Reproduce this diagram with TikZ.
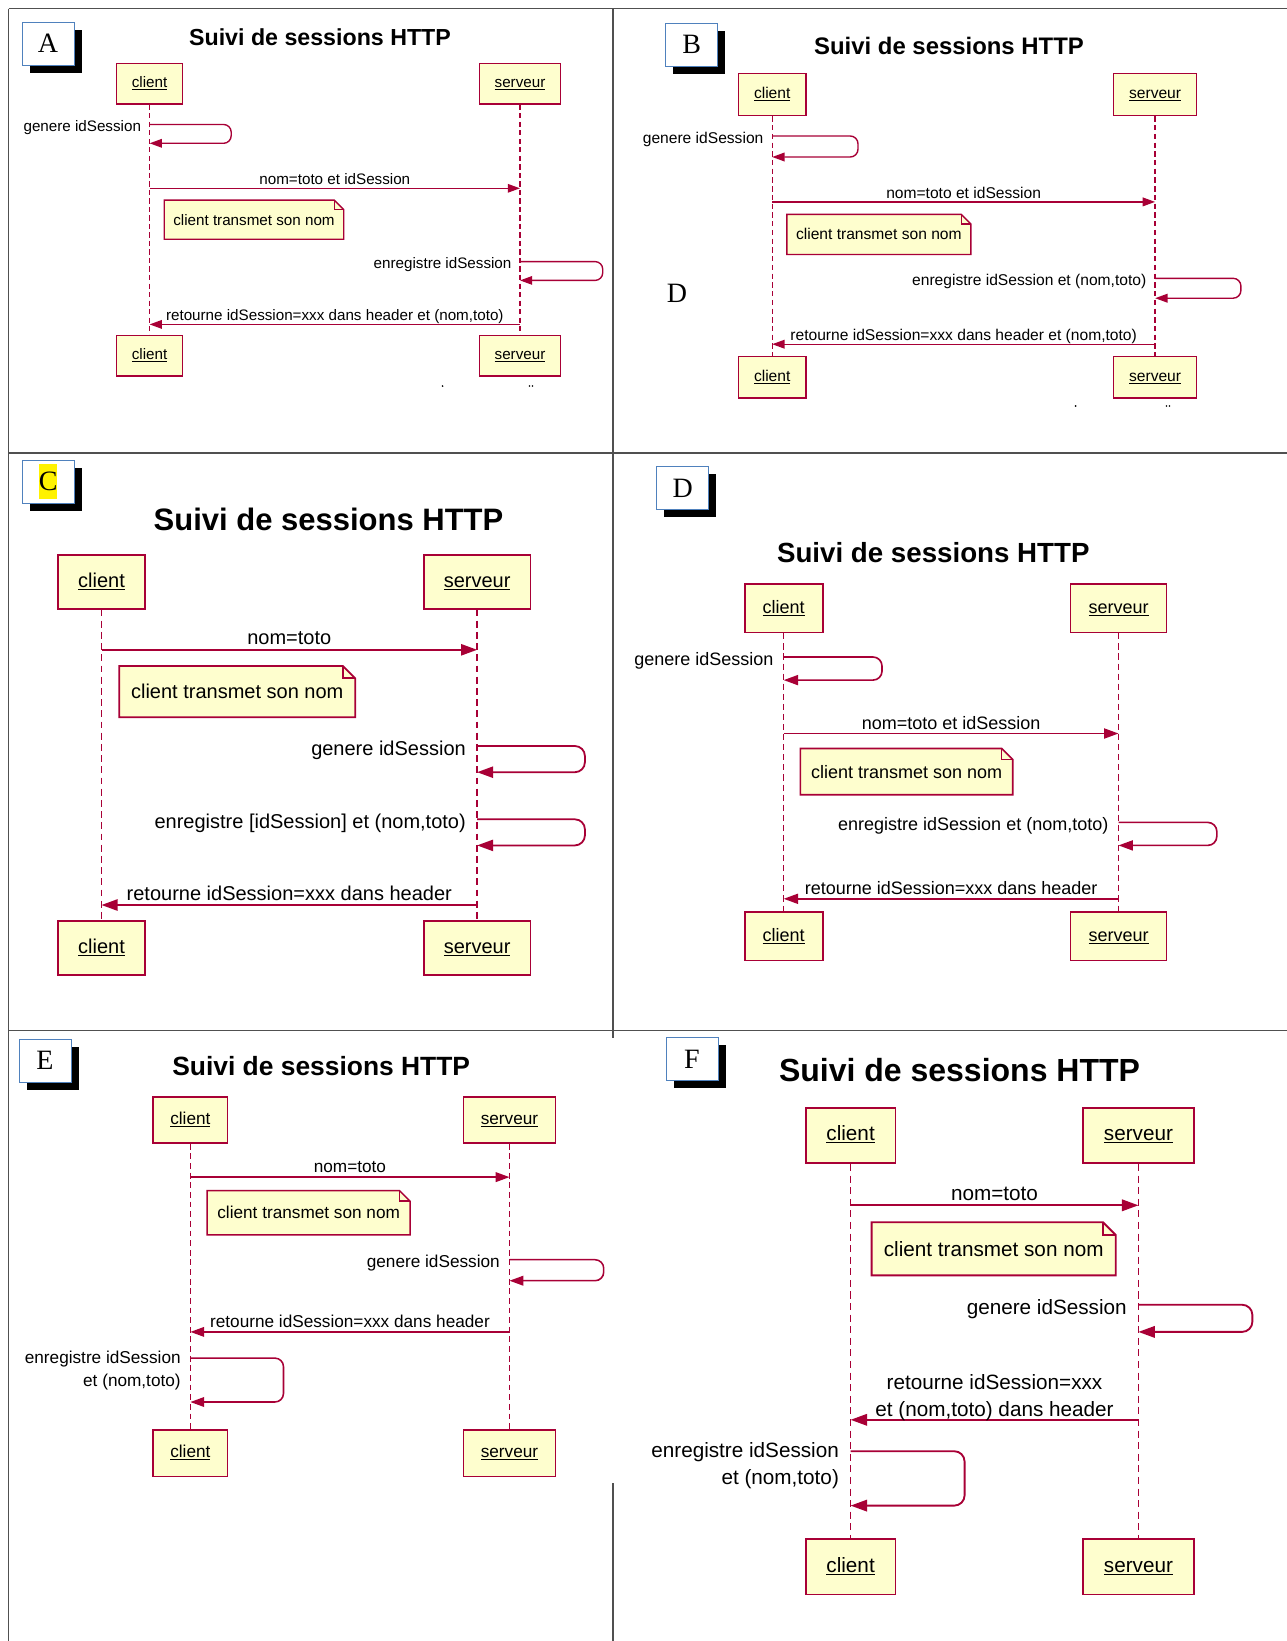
\documentclass[tikz,border=0pt]{standalone}
\usepackage{fontspec}
\setmainfont{Liberation Sans}
\newfontfamily\tagfont{Liberation Serif}
\usepackage{xcolor}
\usepackage{tikz}
\usetikzlibrary{positioning}
\usetikzlibrary{arrows.meta,shadows}

\definecolor{umlred}{HTML}{A80036}
\definecolor{umlyellow}{HTML}{FEFECE}
\definecolor{tagblue}{HTML}{4F81BD}
\definecolor{framegray}{HTML}{505050}

% font of one panel: size and baseline skip
\newcommand{\panelfont}[2]{\fontsize{#1}{#2}\selectfont}

% body and dog-ear of a note (drawn under the node text)
\newcommand{\notefold}[1]{%
	\filldraw[fill=umlyellow, draw=umlred, line width=0.09em] (#1.north west) -- ([xshift=-0.62em]#1.north east) -- ([yshift=-0.62em]#1.north east) -- (#1.south east) -- (#1.south west) -- cycle;
	\draw[umlred, line width=0.09em] ([xshift=-0.62em]#1.north east) |- ([yshift=-0.62em]#1.north east);%
}

\tikzset{
	frameline/.style={draw=framegray, line width=1.4pt},
	tag/.style={draw=tagblue, fill=white, line width=0.9pt, minimum width=52pt, minimum height=43pt, inner sep=0pt,
		font=\tagfont\fontsize{28}{30}\selectfont,
		drop shadow={fill=black, opacity=1, shadow xshift=7.5pt, shadow yshift=-7.5pt}},
	paneltitle/.style={inner sep=0pt},
	actor/.style={draw=umlred, fill=umlyellow, line width=0.09em, minimum height=2.68em, inner xsep=1em, inner ysep=0pt,
		text height=0.75em, text depth=0.22em},
	lifeline/.style={draw=umlred, line width=0.085em, dash pattern=on 0.34em off 0.22em},
	msg/.style={draw=umlred, line width=0.09em, -{Triangle[length=0.8em, width=0.56em]}},
	selfmsg/.style={rounded corners=0.5em, to path={-- ++(#1,0) |- (\tikztotarget)}},
	msglabel/.style={anchor=base, yshift=0.25em, inner sep=0pt},
	selflabel/.style={anchor=east, align=right, inner xsep=0.52em, inner ysep=0pt, yshift=-0.2em},
	note/.style={anchor=west, minimum height=2.55em, inner xsep=0.58em, inner ysep=0pt,
		append after command={\pgfextra{\notefold{\tikzlastnode}}}},
}

\begin{document}
\begin{tikzpicture}[x=1pt, y=-1pt]
	\path[use as bounding box, fill=white] (0,0) rectangle (1287,1641);
	
	% table frame
	\draw[frameline] (8.7,8.5) -- (1287,8.5);
	\draw[frameline] (8.7,453) -- (1287,453);
	\draw[frameline] (8.7,1030.5) -- (1287,1030.5);
	\draw[frameline] (8.7,8.5) -- (8.7,1641);
	\draw[frameline] (613,8.5) -- (613,1038);
	\draw[frameline] (613,1483) -- (613,1641);
	
	%%%%%%%%%%%%%%%%%%%%%%%%%%%%%%%%%%%%%%%%%%%%%%%%%%%%%%%%%%%%%%
	% A
	\begin{scope}
		\panelfont{15.2}{20}
		\node[tag] (A-tag) at (48,43.5) {A};
		\node[paneltitle, font=\bfseries\fontsize{23.2}{28}\selectfont] (A-title) at (320,37.7) {Suivi de sessions HTTP};
		
		\node[actor] (A-cl) at (149.6,83.7) {\underline{client}};
		\node[actor] (A-sv) at (520,83.7) {\underline{serveur}};
		\node[actor] (A-cl2) at (149.6,355.7) {\underline{client}};
		\node[actor] (A-sv2) at (520,355.7) {\underline{serveur}};
		\draw[lifeline] (A-cl) -- (A-cl2);
		\draw[lifeline] (A-sv) -- (A-sv2);
		
		\coordinate (A-1a) at (149.6,124.5); \coordinate (A-1b) at (149.6,143.3);
		\coordinate (A-2a) at (149.6,188.3); \coordinate (A-2b) at (520,188.3);
		\coordinate (A-3a) at (520,261.6);   \coordinate (A-3b) at (520,280.4);
		\coordinate (A-4a) at (520,324.4);   \coordinate (A-4b) at (149.6,324.4);
		
		\draw[msg, selfmsg=81.6] (A-1a) node[selflabel] {genere idSession} to (A-1b);
		\draw[msg] (A-2a) -- node[msglabel] {nom=toto et idSession} (A-2b);
		\node[note] (A-note) at (164.3,219.7) {client transmet son nom};
		\draw[msg, selfmsg=82.7] (A-3a) node[selflabel] {enregistre idSession} to (A-3b);
		\draw[msg] (A-4a) -- node[msglabel] {retourne idSession=xxx dans header et (nom,toto)} (A-4b);
		
		\fill (442.6,386) circle (0.9pt) (529.5,386) circle (0.9pt) (532.5,386) circle (0.9pt);
	\end{scope}
	
	%%%%%%%%%%%%%%%%%%%%%%%%%%%%%%%%%%%%%%%%%%%%%%%%%%%%%%%%%%%%%%
	% B
	\begin{scope}
		\panelfont{15.6}{20.5}
		\node[tag] (B-tag) at (691.6,44.5) {B};
		\node[paneltitle, font=\bfseries\fontsize{23.9}{28}\selectfont] (B-title) at (949,46) {Suivi de sessions HTTP};
		\node[font=\tagfont\fontsize{28}{30}\selectfont] (B-d) at (677,293) {D};
		
		\node[actor] (B-cl) at (772.2,94.7) {\underline{client}};
		\node[actor] (B-sv) at (1155.1,94.7) {\underline{serveur}};
		\node[actor] (B-cl2) at (772.2,377.2) {\underline{client}};
		\node[actor] (B-sv2) at (1155.1,377.2) {\underline{serveur}};
		\draw[lifeline] (B-cl) -- (B-cl2);
		\draw[lifeline] (B-sv) -- (B-sv2);
		
		\coordinate (B-1a) at (772.2,136);    \coordinate (B-1b) at (772.2,157);
		\coordinate (B-2a) at (772.2,201.9);  \coordinate (B-2b) at (1155.1,201.9);
		\coordinate (B-3a) at (1155.1,278.3); \coordinate (B-3b) at (1155.1,298.2);
		\coordinate (B-4a) at (1155.1,344.2); \coordinate (B-4b) at (772.2,344.2);
		
		\draw[msg, selfmsg=85.8] (B-1a) node[selflabel] {genere idSession} to (B-1b);
		\draw[msg] (B-2a) -- node[msglabel] {nom=toto et idSession} (B-2b);
		\node[note] (B-note) at (786.8,234.4) {client transmet son nom};
		\draw[msg, selfmsg=85.8] (B-3a) node[selflabel] {enregistre idSession et (nom,toto)} to (B-3b);
		\draw[msg] (B-4a) -- node[msglabel] {retourne idSession=xxx dans header et (nom,toto)} (B-4b);
		
		\fill (1075.6,406) circle (0.9pt) (1166.5,406) circle (0.9pt) (1169.5,406) circle (0.9pt);
	\end{scope}
	
	%%%%%%%%%%%%%%%%%%%%%%%%%%%%%%%%%%%%%%%%%%%%%%%%%%%%%%%%%%%%%%
	% C
	\begin{scope}
		\panelfont{20}{26}
		\node[tag] (C-tag) at (48.1,481.8) {{\setlength{\fboxsep}{0pt}\colorbox{yellow}{C\rule[-9pt]{0pt}{35pt}}}\hspace{17pt}};
		\node[paneltitle, font=\bfseries\fontsize{31}{36}\selectfont] (C-title) at (328.5,519) {Suivi de sessions HTTP};
		
		\node[actor] (C-cl) at (101.5,581.8) {\underline{client}};
		\node[actor] (C-sv) at (477.1,581.8) {\underline{serveur}};
		\node[actor] (C-cl2) at (101.5,948) {\underline{client}};
		\node[actor] (C-sv2) at (477.1,948) {\underline{serveur}};
		\draw[lifeline] (C-cl) -- (C-cl2);
		\draw[lifeline] (C-sv) -- (C-sv2);
		
		\coordinate (C-1a) at (101.5,649.8); \coordinate (C-1b) at (477.1,649.8);
		\coordinate (C-2a) at (477.1,746);   \coordinate (C-2b) at (477.1,772.2);
		\coordinate (C-3a) at (477.1,819.3); \coordinate (C-3b) at (477.1,845.4);
		\coordinate (C-4a) at (477.1,905);   \coordinate (C-4b) at (101.5,905);
		
		\draw[msg] (C-1a) -- node[msglabel] {nom=toto} (C-1b);
		\node[note] (C-note) at (119.3,691.6) {client transmet son nom};
		\draw[msg, selfmsg=107.8] (C-2a) node[selflabel] {genere idSession} to (C-2b);
		\draw[msg, selfmsg=107.8] (C-3a) node[selflabel] {enregistre [idSession] et (nom,toto)} to (C-3b);
		\draw[msg] (C-4a) -- node[msglabel] {retourne idSession=xxx dans header} (C-4b);
	\end{scope}
	
	%%%%%%%%%%%%%%%%%%%%%%%%%%%%%%%%%%%%%%%%%%%%%%%%%%%%%%%%%%%%%%
	% D
	\begin{scope}
		\panelfont{18}{23.5}
		\node[tag] (D-tag) at (682.7,488) {D};
		\node[paneltitle, font=\bfseries\fontsize{27.7}{33}\selectfont] (D-title) at (933.3,552.4) {Suivi de sessions HTTP};
		
		\node[actor] (D-cl) at (783.7,608.4) {\underline{client}};
		\node[actor] (D-sv) at (1118.5,608.4) {\underline{serveur}};
		\node[actor] (D-cl2) at (783.7,936.4) {\underline{client}};
		\node[actor] (D-sv2) at (1118.5,936.4) {\underline{serveur}};
		\draw[lifeline] (D-cl) -- (D-cl2);
		\draw[lifeline] (D-sv) -- (D-sv2);
		
		\coordinate (D-1a) at (783.7,657);    \coordinate (D-1b) at (783.7,680.1);
		\coordinate (D-2a) at (783.7,733.5);  \coordinate (D-2b) at (1118.5,733.5);
		\coordinate (D-3a) at (1118.5,822.4); \coordinate (D-3b) at (1118.5,845.4);
		\coordinate (D-4a) at (1118.5,898.8); \coordinate (D-4b) at (783.7,898.8);
		
		\draw[msg, selfmsg=98.3] (D-1a) node[selflabel] {genere idSession} to (D-1b);
		\draw[msg] (D-2a) -- node[msglabel] {nom=toto et idSession} (D-2b);
		\node[note] (D-note) at (800.4,771.6) {client transmet son nom};
		\draw[msg, selfmsg=98.3] (D-3a) node[selflabel] {enregistre idSession et (nom,toto)} to (D-3b);
		\draw[msg] (D-4a) -- node[msglabel] {retourne idSession=xxx dans header} (D-4b);
	\end{scope}
	
	%%%%%%%%%%%%%%%%%%%%%%%%%%%%%%%%%%%%%%%%%%%%%%%%%%%%%%%%%%%%%%
	% E
	\begin{scope}
		\panelfont{17.2}{23}
		\node[tag] (E-tag) at (45,1060.5) {E};
		\node[paneltitle, font=\bfseries\fontsize{26.4}{31}\selectfont] (E-title) at (321.2,1066.2) {Suivi de sessions HTTP};
		
		\node[actor] (E-cl) at (190.4,1120) {\underline{client}};
		\node[actor] (E-sv) at (509.5,1120) {\underline{serveur}};
		\node[actor] (E-cl2) at (190.4,1453.3) {\underline{client}};
		\node[actor] (E-sv2) at (509.5,1453.3) {\underline{serveur}};
		\draw[lifeline] (E-cl) -- (E-cl2);
		\draw[lifeline] (E-sv) -- (E-sv2);
		
		\coordinate (E-1a) at (190.4,1177.1); \coordinate (E-1b) at (509.5,1177.1);
		\coordinate (E-2a) at (509.5,1259.7); \coordinate (E-2b) at (509.5,1280.7);
		\coordinate (E-3a) at (509.5,1331.9); \coordinate (E-3b) at (190.4,1331.9);
		\coordinate (E-4a) at (190.4,1358.1); \coordinate (E-4b) at (190.4,1402);
		
		\draw[msg] (E-1a) -- node[msglabel] {nom=toto} (E-1b);
		\node[note] (E-note) at (207.2,1212.7) {client transmet son nom};
		\draw[msg, selfmsg=94.2] (E-2a) node[selflabel] {genere idSession} to (E-2b);
		\draw[msg] (E-3a) -- node[msglabel] {retourne idSession=xxx dans header} (E-3b);
		\draw[msg, selfmsg=93.1] (E-4a) node[selflabel, yshift=-0.5em] {enregistre idSession\\et (nom,toto)} to (E-4b);
	\end{scope}
	
	%%%%%%%%%%%%%%%%%%%%%%%%%%%%%%%%%%%%%%%%%%%%%%%%%%%%%%%%%%%%%%
	% F
	\begin{scope}
		\panelfont{20.7}{27}
		\node[tag] (F-tag) at (692,1059.4) {F};
		\node[paneltitle, font=\bfseries\fontsize{32}{38}\selectfont] (F-title) at (959.5,1070.4) {Suivi de sessions HTTP};
		
		\node[actor] (F-cl) at (850.6,1135.3) {\underline{client}};
		\node[actor] (F-sv) at (1138.4,1135.3) {\underline{serveur}};
		\node[actor] (F-cl2) at (850.6,1566.8) {\underline{client}};
		\node[actor] (F-sv2) at (1138.4,1566.8) {\underline{serveur}};
		\draw[lifeline] (F-cl) -- (F-cl2);
		\draw[lifeline] (F-sv) -- (F-sv2);
		
		\coordinate (F-1a) at (850.6,1205.3);  \coordinate (F-1b) at (1138.4,1205.3);
		\coordinate (F-2a) at (1138.4,1304.7); \coordinate (F-2b) at (1138.4,1331.9);
		\coordinate (F-3a) at (1138.4,1419.8); \coordinate (F-3b) at (850.6,1419.8);
		\coordinate (F-4a) at (850.6,1451.2);  \coordinate (F-4b) at (850.6,1505.6);
		
		\draw[msg] (F-1a) -- node[msglabel] {nom=toto} (F-1b);
		\node[note] (F-note) at (871.6,1248.8) {client transmet son nom};
		\draw[msg, selfmsg=114] (F-2a) node[selflabel] {genere idSession} to (F-2b);
		\draw[msg] (F-3a) -- node[above, align=center, inner sep=0pt, yshift=-0.07em] {retourne idSession=xxx\\et (nom,toto) dans header} (F-3b);
		\draw[msg, selfmsg=114] (F-4a) node[selflabel, yshift=-0.5em] {enregistre idSession\\et (nom,toto)} to (F-4b);
	\end{scope}
	
\end{tikzpicture}
\end{document}
